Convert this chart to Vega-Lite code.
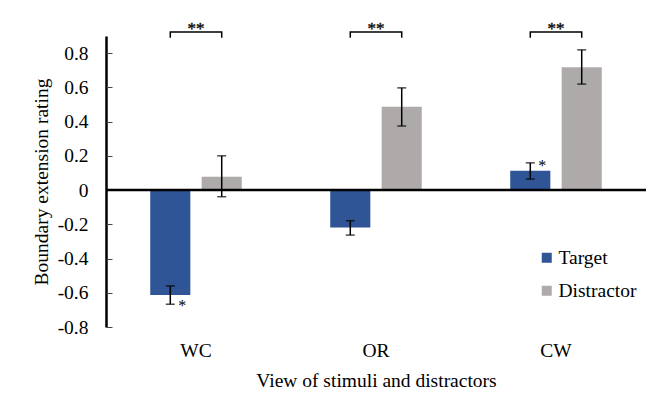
{
  "$schema": "https://vega.github.io/schema/vega-lite/v6.json",
  "width": 540,
  "height": 291,
  "autosize": {"type": "none"},
  "padding": {"left": 106, "top": 36, "right": 13, "bottom": 72},
  "background": "white",
  "config": {
    "view": {"stroke": null},
    "font": "Liberation Serif",
    "axis": {"labelFont": "Liberation Serif", "titleFont": "Liberation Serif"},
    "legend": {"labelFont": "Liberation Serif"},
    "text": {"font": "Liberation Serif"}
  },
  "resolve": {"axis": {"y": "independent"}},
  "datasets": {
    "bars": [
      {"cat": "WC", "group": "Target", "value": -0.613, "lo": -0.667, "hi": -0.56},
      {"cat": "WC", "group": "Distractor", "value": 0.078, "lo": -0.039, "hi": 0.2},
      {"cat": "OR", "group": "Target", "value": -0.218, "lo": -0.263, "hi": -0.179},
      {"cat": "OR", "group": "Distractor", "value": 0.486, "lo": 0.374, "hi": 0.597},
      {"cat": "CW", "group": "Target", "value": 0.113, "lo": 0.064, "hi": 0.159},
      {"cat": "CW", "group": "Distractor", "value": 0.718, "lo": 0.619, "hi": 0.819}
    ],
    "stars": [
      {"cat": "WC", "group": "Target", "y": -0.704, "label": "*"},
      {"cat": "CW", "group": "Target", "y": 0.114, "label": "*"}
    ],
    "sig": [
      {"cat": "WC", "y": 0.91, "label": "**"},
      {"cat": "OR", "y": 0.91, "label": "**"},
      {"cat": "CW", "y": 0.91, "label": "**"}
    ],
    "brackets": [
      {"cat": "WC", "group": "Target", "y": 0.89, "ord": 1},
      {"cat": "WC", "group": "Target", "y": 0.923, "ord": 2},
      {"cat": "WC", "group": "Distractor", "y": 0.923, "ord": 3},
      {"cat": "WC", "group": "Distractor", "y": 0.89, "ord": 4},
      {"cat": "OR", "group": "Target", "y": 0.89, "ord": 1},
      {"cat": "OR", "group": "Target", "y": 0.923, "ord": 2},
      {"cat": "OR", "group": "Distractor", "y": 0.923, "ord": 3},
      {"cat": "OR", "group": "Distractor", "y": 0.89, "ord": 4},
      {"cat": "CW", "group": "Target", "y": 0.89, "ord": 1},
      {"cat": "CW", "group": "Target", "y": 0.923, "ord": 2},
      {"cat": "CW", "group": "Distractor", "y": 0.923, "ord": 3},
      {"cat": "CW", "group": "Distractor", "y": 0.89, "ord": 4}
    ]
  },
  "layer": [
    {
      "data": {"name": "bars"},
      "mark": {"type": "bar"},
      "encoding": {
        "x": {
          "field": "cat", "type": "nominal", "sort": ["WC", "OR", "CW"],
          "scale": {"paddingInner": 0, "paddingOuter": 0},
          "axis": {
            "title": "View of stimuli and distractors", "domain": false, "ticks": false,
            "labelAngle": 0, "labelPadding": 14, "labelFontSize": 19.5, "labelColor": "black",
            "titleFontSize": 19.5, "titleFontWeight": "normal", "titleColor": "black", "titlePadding": 12
          }
        },
        "xOffset": {
          "field": "group", "type": "nominal",
          "scale": {"domain": ["Target", "Distractor"], "paddingInner": 0.22, "paddingOuter": 0.86}
        },
        "y": {
          "field": "value", "type": "quantitative",
          "scale": {"domain": [-0.8, 0.9], "nice": false, "zero": false},
          "axis": {
            "orient": "left",
            "title": "Boundary extension rating",
            "values": [-0.8, -0.6, -0.4, -0.2, 0, 0.2, 0.4, 0.6, 0.8],
            "labelExpr": "datum.value == 0 ? '0' : (datum.value < 0 ? '-' : '') + format(abs(datum.value), '.1f')",
            "labelOverlap": false,
            "labelFont": "Liberation Serif",
            "grid": false, "domainColor": "black", "domainWidth": 2.5,
            "ticks": false, "labelPadding": 18,
            "labelFontSize": 19.5, "labelColor": "black",
            "titleFontSize": 19.5, "titleFontWeight": "normal", "titleColor": "black", "titlePadding": 6
          }
        },
        "color": {
          "field": "group", "type": "nominal",
          "scale": {"domain": ["Target", "Distractor"], "range": ["#2F5597", "#AEAAAA"]},
          "legend": {
            "title": null, "orient": "none", "legendX": 431, "legendY": 212,
            "symbolType": "square", "symbolSize": 100, "symbolStrokeWidth": 0,
            "labelFontSize": 19.5, "labelColor": "black", "rowPadding": 12, "labelOffset": 2, "padding": 0
          }
        }
      }
    },
    {
      "data": {"values": [{"v": 0}]},
      "mark": {"type": "rule", "color": "black", "strokeWidth": 2.5},
      "encoding": {
        "y": {
          "field": "v", "type": "quantitative",
          "axis": {
            "orient": "left", "offset": -6, "domain": false, "labels": false, "title": null, "grid": false,
            "values": [-0.8, -0.6, -0.4, -0.2, 0, 0.2, 0.4, 0.6, 0.8],
            "ticks": true, "tickSize": 6, "tickWidth": 1, "tickColor": "#444444"
          }
        }
      }
    },
    {
      "data": {"name": "bars"},
      "mark": {"type": "rule", "color": "black", "strokeWidth": 1.5},
      "encoding": {
        "x": {"field": "cat", "type": "nominal", "sort": ["WC", "OR", "CW"]},
        "xOffset": {"field": "group", "type": "nominal"},
        "y": {"field": "lo", "type": "quantitative", "axis": null},
        "y2": {"field": "hi"}
      }
    },
    {
      "data": {"name": "bars"},
      "transform": [{"fold": ["lo", "hi"], "as": ["end", "ev"]}],
      "mark": {"type": "tick", "orient": "horizontal", "size": 9, "thickness": 1.5, "color": "black"},
      "encoding": {
        "x": {"field": "cat", "type": "nominal", "sort": ["WC", "OR", "CW"]},
        "xOffset": {"field": "group", "type": "nominal"},
        "y": {"field": "ev", "type": "quantitative", "axis": null}
      }
    },
    {
      "data": {"name": "brackets"},
      "mark": {"type": "line", "color": "black", "strokeWidth": 1.5, "clip": false},
      "encoding": {
        "x": {"field": "cat", "type": "nominal", "sort": ["WC", "OR", "CW"]},
        "xOffset": {"field": "group", "type": "nominal"},
        "y": {"field": "y", "type": "quantitative", "axis": null},
        "detail": {"field": "cat"},
        "order": {"field": "ord", "type": "quantitative"}
      }
    },
    {
      "data": {"name": "sig"},
      "mark": {"type": "text", "fontSize": 17, "baseline": "alphabetic", "align": "center", "fill": "#111111", "stroke": "#111111", "strokeWidth": 0.4},
      "encoding": {
        "x": {"field": "cat", "type": "nominal", "sort": ["WC", "OR", "CW"]},
        "y": {"field": "y", "type": "quantitative", "axis": null},
        "text": {"field": "label"}
      }
    },
    {
      "data": {"name": "stars"},
      "mark": {"type": "text", "fontSize": 16, "baseline": "alphabetic", "align": "left", "dx": 8, "fill": "black"},
      "encoding": {
        "x": {"field": "cat", "type": "nominal", "sort": ["WC", "OR", "CW"]},
        "xOffset": {"field": "group", "type": "nominal"},
        "y": {"field": "y", "type": "quantitative", "axis": null},
        "text": {"field": "label"}
      }
    }
  ]
}
